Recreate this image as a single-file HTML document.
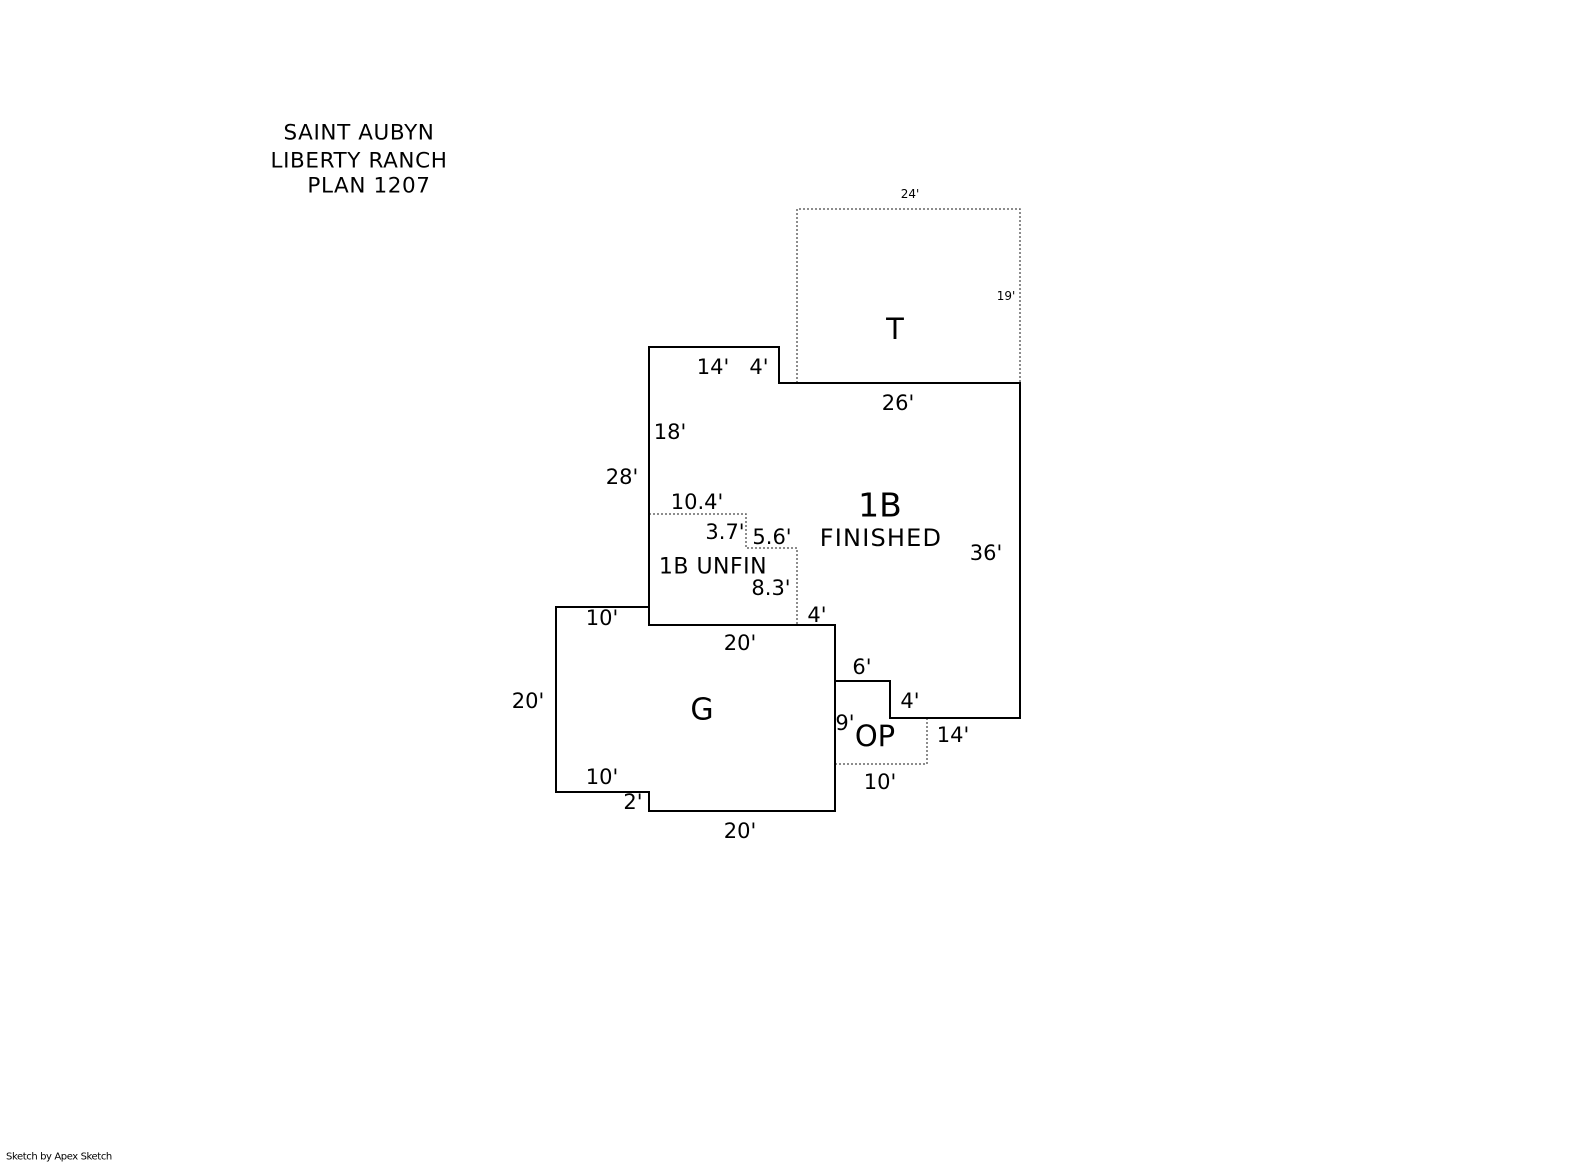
<!DOCTYPE html>
<html><head><style>
html,body{margin:0;padding:0;background:#fff;}
svg{display:block;}
text{font-family:"DejaVu Sans","Liberation Sans",sans-serif;fill:#000;text-anchor:middle;dominant-baseline:central;}
</style></head><body>
<svg width="1585" height="1163" viewBox="0 0 1585 1163" xmlns="http://www.w3.org/2000/svg">
<g font-size="21.5" letter-spacing="0.6">
<text x="359" y="133">SAINT AUBYN</text>
<text x="359" y="161">LIBERTY RANCH</text>
<text x="369" y="186">PLAN 1207</text>
</g>
<g fill="none" stroke="#666" stroke-width="1.5" stroke-dasharray="2,2">
<polyline points="797,383 797,209 1020,209 1020,383"/>
<polyline points="649,514 746,514 746,548 797,548 797,625"/>
<polyline points="835,764 927,764 927,718"/>
</g>
<g fill="none" stroke="#000" stroke-width="2">
<polygon points="649,347 779,347 779,383 1020,383 1020,718 890,718 890,681 835,681 835,625 649,625"/>
<polygon points="556,607 649,607 649,625 835,625 835,811 649,811 649,792 556,792"/>
</g>
<g font-size="21">
<text x="713" y="367">14'</text>
<text x="759" y="367">4'</text>
<text x="898" y="403">26'</text>
<text x="670" y="432">18'</text>
<text x="622" y="477">28'</text>
<text x="697" y="502">10.4'</text>
<text x="725" y="532">3.7'</text>
<text x="772" y="537">5.6'</text>
<text x="986" y="553">36'</text>
<text x="771" y="588">8.3'</text>
<text x="817" y="615">4'</text>
<text x="602" y="618">10'</text>
<text x="740" y="643">20'</text>
<text x="862" y="667">6'</text>
<text x="910" y="701">4'</text>
<text x="845" y="723">9'</text>
<text x="953" y="735">14'</text>
<text x="602" y="777">10'</text>
<text x="880" y="782">10'</text>
<text x="633" y="802">2'</text>
<text x="740" y="831">20'</text>
<text x="528" y="701">20'</text>
</g>
<text x="880" y="505" font-size="33">1B</text>
<text x="881" y="538" font-size="24" letter-spacing="1.2">FINISHED</text>
<text x="713" y="567" font-size="22" letter-spacing="0.5">1B UNFIN</text>
<text x="702" y="710" font-size="30">G</text>
<text x="875" y="736" font-size="29">OP</text>
<text x="895" y="329" font-size="29">T</text>
<text x="910" y="194" font-size="12">24'</text>
<text x="1006" y="296" font-size="12">19'</text>
<text x="6" y="1157" font-size="10" letter-spacing="-0.4" style="text-anchor:start">Sketch by Apex Sketch</text>
</svg>
</body></html>
